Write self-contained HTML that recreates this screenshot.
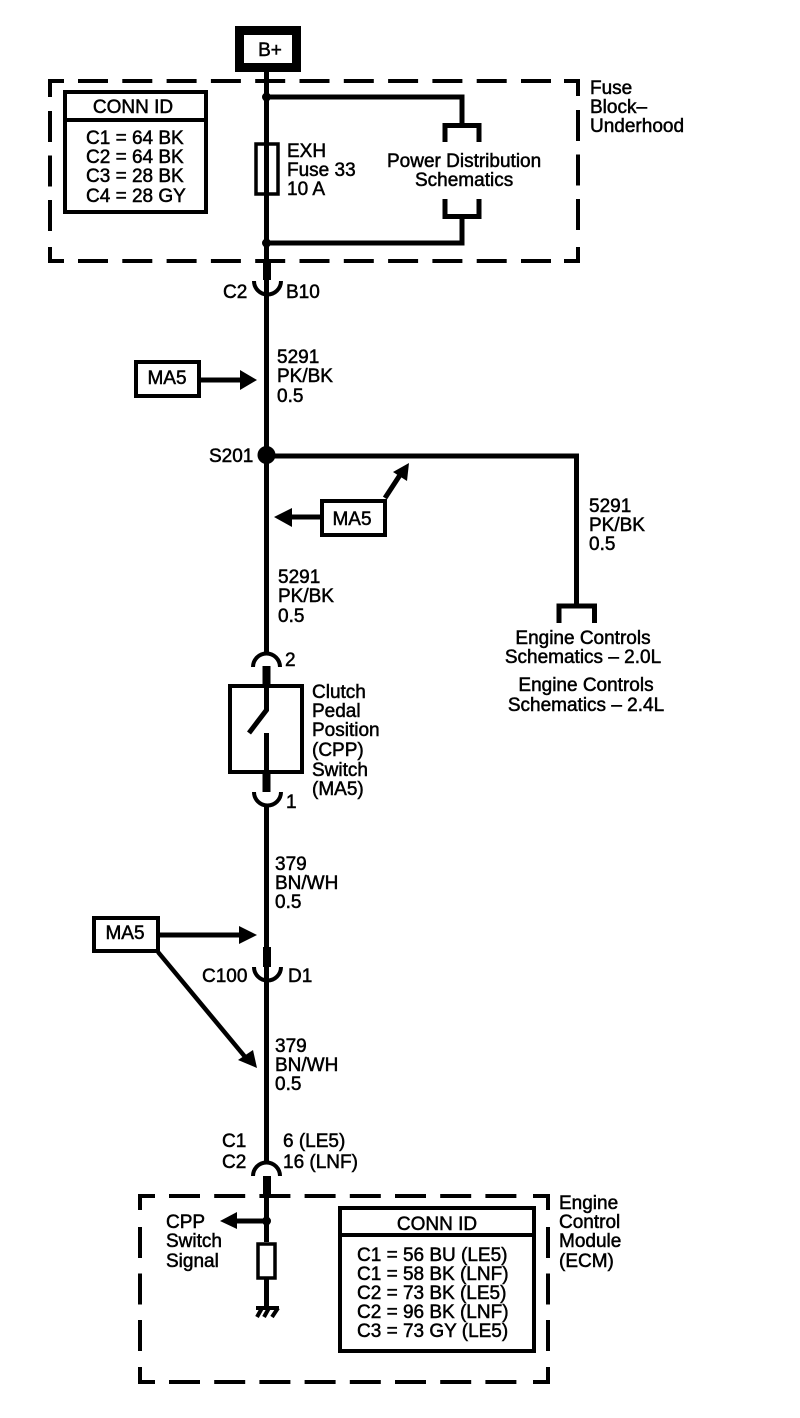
<!DOCTYPE html>
<html>
<head>
<meta charset="utf-8">
<style>
html,body{margin:0;padding:0;background:#fff}
svg{display:block}
text{font-family:"Liberation Sans",sans-serif;font-size:19px;fill:#000;stroke:#000;stroke-width:.5}
.m{text-anchor:middle}
</style>
</head>
<body>
<svg width="800" height="1418" viewBox="0 0 800 1418" xmlns="http://www.w3.org/2000/svg">
<rect width="800" height="1418" fill="#fff"/>
<g fill="none" stroke="#000" stroke-width="4">
  <!-- top dashed box -->
  <path d="M64 81H50V97M564 81H578V96M50 247V261H64M578 247V261H564"/>
  <path d="M78 81H560" stroke-dasharray="30 14.3"/>
  <path d="M78 261H560" stroke-dasharray="30 14.3"/>
  <path d="M50 111V235" stroke-dasharray="31 13.5"/>
  <path d="M578 110V235" stroke-dasharray="31 13.5"/>
  <!-- bottom dashed box -->
  <path d="M155 1196H140V1210M533 1196H548V1210M140 1367V1382H155M548 1367V1382H533"/>
  <path d="M169 1196H525" stroke-dasharray="31 14.2"/>
  <path d="M169 1382H525" stroke-dasharray="31 14.2"/>
  <path d="M140 1227V1355" stroke-dasharray="31 15.5"/>
  <path d="M548 1227V1355" stroke-dasharray="31 15.5"/>
  <!-- conn boxes -->
  <rect x="65" y="92" width="141" height="120"/>
  <path d="M65 120H206"/>
  <rect x="340" y="1208" width="194" height="143"/>
  <path d="M340 1235H534"/>
  <!-- MA5 boxes -->
  <rect x="136" y="362" width="63" height="34"/>
  <rect x="322" y="501" width="63" height="34"/>
  <rect x="94" y="918" width="64" height="33"/>
  <!-- switch -->
  <rect x="230" y="686" width="72" height="86"/>
  <!-- fuse -->
  <rect x="256" y="144" width="22" height="50" stroke-width="3.5"/>
  <rect x="258" y="1244" width="17" height="34" stroke-width="3.5"/>
</g>
<!-- B+ -->
<rect x="239.500" y="30.500" width="57" height="37" fill="none" stroke="#000" stroke-width="9"/>
<g fill="none" stroke="#000" stroke-width="5">
  <!-- main wire -->
  <path d="M266.500 72V292"/>
  <path d="M266.500 292V653"/>
  <path d="M266.500 806V1163"/>
  <path d="M266.500 1176V1242M266.500 1279V1307"/>
  <!-- power dist -->
  <path d="M266 97H462V125M445 142V125.500H479V142M266 243H462V218M445 199V216.500H479V199"/>
  <!-- S201 branch -->
  <path d="M266 456H576.500V606M559 623V606H594.500V623"/>
  <!-- switch internals -->
  <path d="M266.500 684V710L249 733M266.500 733V774"/>
</g>
<g fill="none" stroke="#000" stroke-width="8">
  <path d="M267 261V280M266.500 666V686M266.500 774V792M267 947V967M267 1176V1197"/>
</g>
<g fill="none" stroke="#000" stroke-width="4">
  <!-- connectors -->
  <path d="M254 281A13.500 13.500 0 0 0 281 281"/>
  <path d="M253 667A13.500 13.500 0 0 1 280 667"/>
  <path d="M254 792A13.500 13.500 0 0 0 281 792"/>
  <path d="M254 967A13.500 13.500 0 0 0 281 967"/>
  <path d="M253 1176A13.500 13.500 0 0 1 280 1176"/>
  <!-- ground -->
  <path d="M256 1308H279M262 1308L257 1317M269 1308L264 1317M278 1308L272 1317"/>
</g>
<g stroke="#000" stroke-width="5" fill="none">
  <path d="M200 380H242"/>
  <path d="M320 517H290"/>
  <path d="M385 498L400 475"/>
  <path d="M160 935H242"/>
  <path d="M158 952L246 1058" stroke-width="4.500"/>
  <path d="M266 1221H235"/>
</g>
<g fill="#000" stroke="none">
  <circle cx="266.500" cy="97" r="4.500"/>
  <circle cx="266.500" cy="243" r="4.500"/>
  <circle cx="266.500" cy="455" r="9"/>
  <circle cx="266.500" cy="1221" r="4.500"/>
  <polygon points="257,380 240,370 240,390"/>
  <polygon points="274,517 292,508 292,527"/>
  <polygon points="409,463 393,472 407,481"/>
  <polygon points="257,935 239,926 239,944"/>
  <polygon points="257,1068 238,1060 253,1050"/>
  <polygon points="220,1221 237,1212 237,1229"/>
</g>
<text class="m" x="270" y="56">B+</text>
<text class="m" x="133" y="113">CONN ID</text>
<text x="86" y="144">C1 = 64 BK</text>
<text x="86" y="163">C2 = 64 BK</text>
<text x="86" y="182">C3 = 28 BK</text>
<text x="86" y="202">C4 = 28 GY</text>
<text x="287" y="157">EXH</text>
<text x="287" y="176">Fuse 33</text>
<text x="287" y="195">10 A</text>
<text x="387" y="167">Power Distribution</text>
<text x="415" y="186">Schematics</text>
<text x="590" y="94">Fuse</text>
<text x="590" y="113">Block–</text>
<text x="590" y="132">Underhood</text>
<text x="223" y="298">C2</text>
<text x="286" y="298">B10</text>
<text class="m" x="167" y="384">MA5</text>
<text x="277" y="363">5291</text>
<text x="277" y="382">PK/BK</text>
<text x="277" y="402">0.5</text>
<text x="209" y="462">S201</text>
<text class="m" x="352" y="525">MA5</text>
<text x="589" y="512">5291</text>
<text x="589" y="531">PK/BK</text>
<text x="589" y="550">0.5</text>
<text x="278" y="583">5291</text>
<text x="278" y="602">PK/BK</text>
<text x="278" y="622">0.5</text>
<text class="m" x="583" y="644">Engine Controls</text>
<text class="m" x="583" y="663">Schematics – 2.0L</text>
<text class="m" x="586" y="691">Engine Controls</text>
<text class="m" x="586" y="711">Schematics – 2.4L</text>
<text x="285" y="666">2</text>
<text x="286" y="808">1</text>
<text x="312" y="698">Clutch</text>
<text x="312" y="717">Pedal</text>
<text x="312" y="736">Position</text>
<text x="312" y="756">(CPP)</text>
<text x="312" y="776">Switch</text>
<text x="312" y="795">(MA5)</text>
<text x="275" y="870">379</text>
<text x="275" y="889">BN/WH</text>
<text x="275" y="908">0.5</text>
<text class="m" x="125" y="939">MA5</text>
<text x="202" y="982">C100</text>
<text x="288" y="982">D1</text>
<text x="275" y="1052">379</text>
<text x="275" y="1071">BN/WH</text>
<text x="275" y="1090">0.5</text>
<text x="222" y="1147">C1</text>
<text x="222" y="1168">C2</text>
<text x="283" y="1147">6 (LE5)</text>
<text x="283" y="1168">16 (LNF)</text>
<text x="166" y="1228">CPP</text>
<text x="166" y="1247">Switch</text>
<text x="166" y="1267">Signal</text>
<text class="m" x="437" y="1230">CONN ID</text>
<text x="357" y="1261">C1 = 56 BU (LE5)</text>
<text x="357" y="1280">C1 = 58 BK (LNF)</text>
<text x="357" y="1299">C2 = 73 BK (LE5)</text>
<text x="357" y="1318">C2 = 96 BK (LNF)</text>
<text x="357" y="1337">C3 = 73 GY (LE5)</text>
<text x="559" y="1209">Engine</text>
<text x="559" y="1228">Control</text>
<text x="559" y="1247">Module</text>
<text x="559" y="1267">(ECM)</text>
</svg>
</body>
</html>
